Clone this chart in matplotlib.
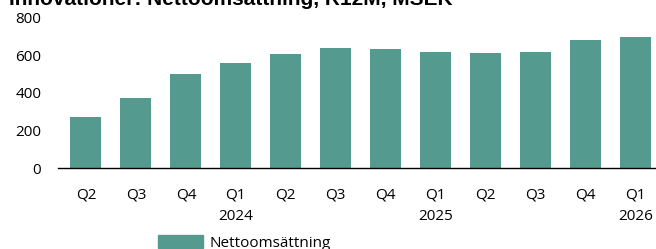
import matplotlib
matplotlib.use("Agg")
import matplotlib.pyplot as plt
from matplotlib.patches import Patch

quarters = ["Q2", "Q3", "Q4", "Q1", "Q2", "Q3", "Q4", "Q1", "Q2", "Q3", "Q4", "Q1"]
years = ["", "", "", "2024", "", "", "", "2025", "", "", "", "2026"]
values = [270, 372, 503, 562, 610, 640, 632, 620, 615, 617, 682, 698]
title = "Innovationer: Nettoomsättning, R12M, MSEK"
series_name = "Nettoomsättning"
color = "#559a8f"

W, H = 656, 249
fig = plt.figure(figsize=(W / 100, H / 100), dpi=100)
ax = fig.add_axes([58 / W, 1 - 168 / H, 1 - 58 / W, (168 - 18) / H])

x = list(range(len(values)))
ax.bar(x, values, width=0.62, color=color, zorder=2)
ax.set_ylim(0, 800)
ax.set_xlim(-0.56, 11.41)
ax.set_yticks([0, 200, 400, 600, 800])
ax.set_xticks(x)
labels = [q + ("\n" + y if y else "\n") for q, y in zip(quarters, years)]
ax.set_xticklabels(labels, linespacing=1.62)
for s in ["top", "right", "left"]:
    ax.spines[s].set_visible(False)
ax.spines["bottom"].set_color("black")
ax.spines["bottom"].set_linewidth(1.0)
ax.tick_params(axis="both", length=0, labelsize=11)
ax.tick_params(axis="x", pad=14)
ax.tick_params(axis="y", pad=12)
for t in ax.get_xticklabels() + ax.get_yticklabels():
    t.set_fontfamily("Open Sans")

fig.text(9 / W, 1 - 5 / H, title, fontsize=15, fontweight="bold",
         family="Liberation Sans", va="baseline", ha="left")

fig.legend(handles=[Patch(color=color, label=series_name)],
           loc="center left", bbox_to_anchor=(150 / W, 1 - 243 / H),
           frameon=False, prop={"family": "Open Sans", "size": 11},
           handlelength=3.0, handleheight=0.9, handletextpad=0.4, borderpad=0)

fig.savefig("out.png", dpi=100)
